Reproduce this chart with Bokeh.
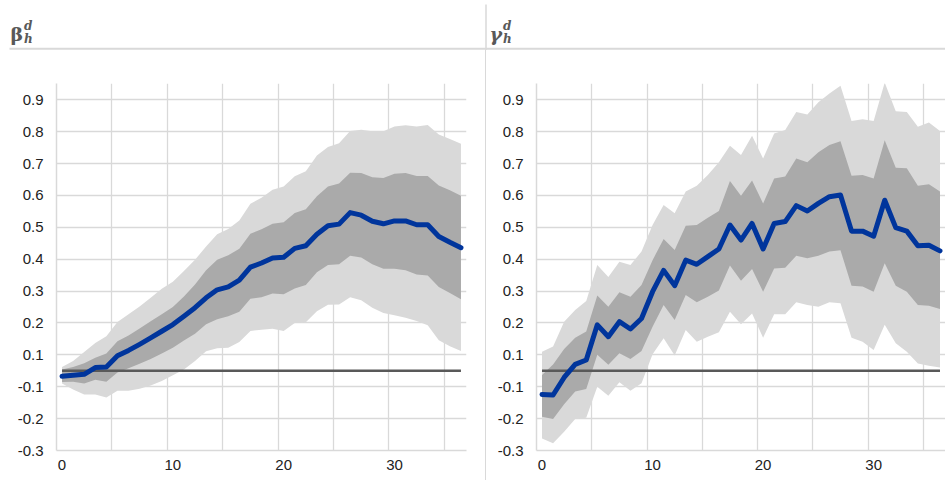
from bokeh.plotting import figure
from bokeh.models import Range1d, FixedTicker, Spacer
from bokeh.layouts import column, row
from bokeh.core.properties import value
from bokeh.embed import file_html
from bokeh.resources import INLINE

# ---------------- data (read against the labelled gridlines) ----------------
horizon = list(range(37))

beta_est = [0.033, 0.036, 0.039, 0.060, 0.062, 0.097, 0.114, 0.133, 0.153, 0.174,
            0.195, 0.221, 0.248, 0.279, 0.304, 0.313, 0.334, 0.375, 0.388, 0.404,
            0.406, 0.434, 0.442, 0.478, 0.505, 0.510, 0.546, 0.538, 0.519, 0.511,
            0.520, 0.520, 0.508, 0.508, 0.471, 0.453, 0.436]
beta_in_hi = [0.054, 0.062, 0.074, 0.091, 0.104, 0.143, 0.161, 0.183, 0.205, 0.227,
              0.250, 0.283, 0.321, 0.365, 0.398, 0.412, 0.433, 0.480, 0.494, 0.511,
              0.516, 0.545, 0.557, 0.597, 0.628, 0.637, 0.671, 0.670, 0.657, 0.655,
              0.668, 0.670, 0.661, 0.661, 0.631, 0.616, 0.599]
beta_in_lo = [0.015, 0.016, 0.010, 0.022, 0.016, 0.045, 0.058, 0.072, 0.087, 0.104,
              0.122, 0.145, 0.166, 0.196, 0.212, 0.221, 0.235, 0.276, 0.281, 0.292,
              0.290, 0.308, 0.319, 0.359, 0.382, 0.384, 0.411, 0.405, 0.384, 0.370,
              0.370, 0.365, 0.352, 0.349, 0.313, 0.294, 0.274]
beta_out_hi = [0.062, 0.081, 0.109, 0.137, 0.158, 0.203, 0.227, 0.252, 0.279, 0.307,
               0.329, 0.363, 0.398, 0.440, 0.478, 0.495, 0.521, 0.574, 0.593, 0.618,
               0.628, 0.660, 0.676, 0.725, 0.752, 0.764, 0.802, 0.806, 0.801, 0.801,
               0.816, 0.820, 0.816, 0.821, 0.791, 0.777, 0.762]
beta_out_lo = [0.010, -0.009, -0.024, -0.024, -0.034, -0.013, -0.013, -0.006, 0.004, 0.018,
               0.036, 0.054, 0.081, 0.111, 0.121, 0.122, 0.140, 0.175, 0.179, 0.182,
               0.175, 0.200, 0.202, 0.237, 0.257, 0.258, 0.281, 0.271, 0.248, 0.231,
               0.224, 0.216, 0.206, 0.193, 0.146, 0.127, 0.112]

gamma_est = [-0.024, -0.026, 0.029, 0.070, 0.084, 0.194, 0.157, 0.204, 0.181, 0.214,
             0.298, 0.365, 0.317, 0.397, 0.384, 0.408, 0.432, 0.507, 0.460, 0.512,
             0.432, 0.512, 0.518, 0.568, 0.551, 0.575, 0.596, 0.601, 0.488, 0.488,
             0.472, 0.585, 0.499, 0.488, 0.442, 0.444, 0.426]
gamma_in_hi = [0.037, 0.070, 0.118, 0.154, 0.173, 0.286, 0.251, 0.296, 0.282, 0.319,
               0.397, 0.463, 0.429, 0.505, 0.507, 0.530, 0.551, 0.645, 0.599, 0.647,
               0.575, 0.653, 0.659, 0.716, 0.704, 0.735, 0.758, 0.770, 0.662, 0.664,
               0.653, 0.773, 0.687, 0.685, 0.630, 0.635, 0.612]
gamma_in_lo = [-0.094, -0.101, -0.055, -0.015, -0.007, 0.100, 0.069, 0.105, 0.087, 0.112,
               0.188, 0.256, 0.209, 0.288, 0.265, 0.282, 0.302, 0.380, 0.332, 0.369,
               0.298, 0.371, 0.373, 0.411, 0.403, 0.411, 0.424, 0.428, 0.317, 0.314,
               0.298, 0.387, 0.317, 0.298, 0.256, 0.254, 0.244]
gamma_out_hi = [0.110, 0.126, 0.204, 0.241, 0.269, 0.382, 0.344, 0.392, 0.382, 0.424,
                0.507, 0.570, 0.544, 0.612, 0.630, 0.664, 0.704, 0.756, 0.727, 0.787,
                0.716, 0.794, 0.805, 0.862, 0.854, 0.892, 0.920, 0.944, 0.833, 0.839,
                0.833, 0.954, 0.864, 0.862, 0.815, 0.829, 0.802]
gamma_out_lo = [-0.162, -0.177, -0.141, -0.101, -0.097, 0.000, -0.028, 0.014, -0.013, 0.011,
                0.102, 0.152, 0.098, 0.178, 0.141, 0.157, 0.171, 0.235, 0.196, 0.230,
                0.154, 0.227, 0.227, 0.265, 0.256, 0.251, 0.265, 0.262, 0.154, 0.141,
                0.115, 0.194, 0.136, 0.110, 0.073, 0.066, 0.060]

baseline = [0.05] * len(horizon)   # the "zero" reference line, midway between 0.1 and -0.1 gridlines

y_tick_pos = [-0.2, -0.1, 0.0, 0.1, 0.2, 0.3, 0.4, 0.5, 0.6, 0.7, 0.8, 0.9]
y_tick_labels = ["-0.3", "-0.2", "-0.1", "0.1", "0.2", "0.3", "0.4", "0.5", "0.6", "0.7", "0.8", "0.9"]
x_tick_pos = [0, 10, 20, 30]
x_grid_pos = [4.5, 9.5, 14.5, 19.5, 24.5, 29.5, 34.5]

# ---------------- styles ----------------
GRID = "#d9d9d9"
OUTER = "#d9d9d9"
INNER = "#aaaaaa"
BLUE = "#00359c"
ZERO = "#595959"
TITLE = "#595959"
TICK_FONT = "Liberation Sans"
PANEL_H = 430


def panel(width, left_border, right_border, est, in_lo, in_hi, out_lo, out_hi):
    p = figure(width=width, height=PANEL_H, output_backend="svg", toolbar_location=None,
               x_range=Range1d(-0.5, 36.5), y_range=Range1d(-0.2, 0.951),
               min_border_left=left_border, min_border_right=right_border,
               min_border_top=33, min_border_bottom=30)
    p.outline_line_color = None
    p.background_fill_color = "white"
    p.border_fill_color = "white"

    p.varea(x=horizon, y1=out_lo, y2=out_hi, fill_color=OUTER)
    p.varea(x=horizon, y1=in_lo, y2=in_hi, fill_color=INNER)
    p.line(horizon, baseline, line_color=ZERO, line_width=2.4)
    p.line(horizon, est, line_color=BLUE, line_width=5, line_join="round", line_cap="round")

    xa = p.xaxis[0]
    xa.ticker = FixedTicker(ticks=x_tick_pos)
    ya = p.yaxis[0]
    ya.ticker = FixedTicker(ticks=y_tick_pos)
    ya.major_label_overrides = {pos: lab for pos, lab in zip(y_tick_pos, y_tick_labels)}
    for ax in (xa, ya):
        ax.axis_line_color = GRID
        ax.axis_line_width = 1.5
        ax.major_tick_line_color = None
        ax.minor_tick_line_color = None
        ax.major_tick_out = 0
        ax.major_tick_in = 0
        ax.major_label_text_font = TICK_FONT
        ax.major_label_text_font_size = "15px"
        ax.major_label_text_color = "#222222"
    xa.major_label_standoff = 9
    ya.major_label_standoff = 13

    p.xgrid.ticker = FixedTicker(ticks=x_grid_pos)
    p.xgrid.grid_line_color = GRID
    p.ygrid.grid_line_color = GRID
    p.xgrid.grid_line_width = 1.3
    p.ygrid.grid_line_width = 1.3
    return p


# ---------------- title strip ----------------
t = figure(width=945, height=50, output_backend="svg", toolbar_location=None,
           x_range=Range1d(0, 945), y_range=Range1d(50, 0),
           x_axis_type=None, y_axis_type=None, min_border=0)
t.outline_line_color = None
t.xgrid.visible = False
t.ygrid.visible = False
t.line([9, 945], [48.3, 48.3], line_color=GRID, line_width=2)
t.line([485.5, 485.5], [4, 50], line_color=GRID, line_width=1.5)
serif = value("DejaVu Serif")
t.text(x=[10], y=[33.5], text=["β"], text_font=serif, text_font_size="19px",
       text_font_style="bold", text_color=TITLE, text_baseline="alphabetic")
t.text(x=[489], y=[33.5], text=["γ"], text_font=serif, text_font_size="19px",
       text_font_style="bold italic", text_color=TITLE, text_baseline="alphabetic")
t.text(x=[23.5, 502.5], y=[25.5, 25.5], text=["d", "d"], text_font=serif, text_font_size="12px",
       text_font_style="bold italic", text_color=TITLE, text_baseline="alphabetic")
t.text(x=[23.5, 502.5], y=[38.5, 38.5], text=["h", "h"], text_font=serif, text_font_size="12px",
       text_font_style="bold italic", text_color=TITLE, text_baseline="alphabetic")

left = panel(485, 56, 19, beta_est, beta_in_lo, beta_in_hi, beta_out_lo, beta_out_hi)
right = panel(459, 50, 0, gamma_est, gamma_in_lo, gamma_in_hi, gamma_out_lo, gamma_out_hi)
sep = Spacer(width=1, height=PANEL_H, styles={"background-color": GRID})

layout = column(t, row(left, sep, right, spacing=0), spacing=0)

open("out.html", "w").write(file_html(layout, INLINE))
